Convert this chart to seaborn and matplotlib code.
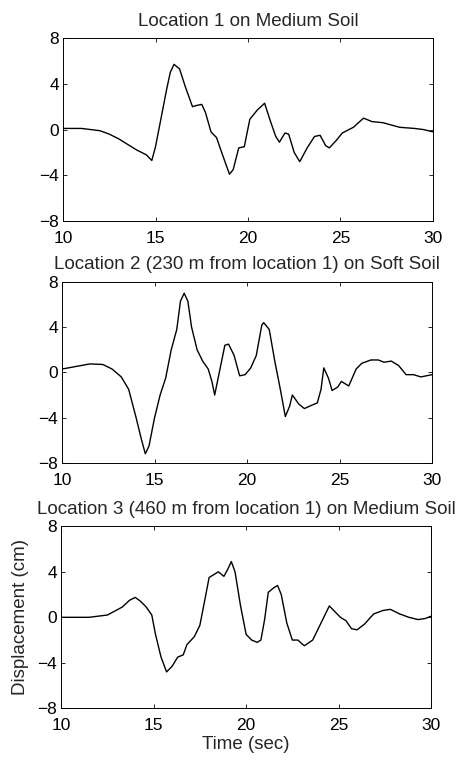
import matplotlib
matplotlib.use("Agg")
import matplotlib.pyplot as plt
import seaborn as sns
import pandas as pd

# Location 1, medium soil
t1 = [10, 11, 12, 12.5, 13, 13.5, 14, 14.5, 14.8, 15, 15.3, 15.6, 15.8, 16.0, 16.3, 16.6,
      17, 17.2, 17.5, 17.7, 18, 18.3, 18.6, 19.0, 19.2, 19.5, 19.8, 20.1, 20.5, 20.9,
      21.2, 21.5, 21.7, 22.0, 22.2, 22.5, 22.8, 23.2, 23.6, 23.9, 24.2, 24.4, 24.8,
      25.1, 25.7, 26.25, 26.7, 27.3, 28.2, 29, 29.5, 30]
d1 = [0.1, 0.1, -0.1, -0.4, -0.8, -1.3, -1.8, -2.2, -2.7, -1.5, 1.0, 3.5, 5.0, 5.7, 5.3, 3.8,
      2.0, 2.1, 2.2, 1.5, -0.2, -0.7, -2.1, -3.9, -3.5, -1.6, -1.5, 0.9, 1.7, 2.3,
      0.8, -0.6, -1.1, -0.3, -0.4, -2.0, -2.8, -1.6, -0.6, -0.5, -1.4, -1.6, -0.9,
      -0.3, 0.2, 1.0, 0.7, 0.6, 0.2, 0.1, 0.0, -0.2]

# Location 2, soft soil
t2 = [10, 11, 11.5, 12.2, 12.7, 13.2, 13.6, 14.0, 14.3, 14.5, 14.7, 15.0, 15.3, 15.6,
      15.9, 16.2, 16.4, 16.6, 16.8, 17.0, 17.3, 17.6, 17.9, 18.1, 18.25, 18.5, 18.8,
      19.0, 19.3, 19.6, 19.9, 20.2, 20.5, 20.8, 20.9, 21.2, 21.5, 21.8, 22.07, 22.3,
      22.45, 22.8, 23.1, 23.5, 23.8, 24.0, 24.15, 24.4, 24.6, 24.9, 25.1, 25.5, 25.9,
      26.2, 26.7, 27.1, 27.4, 27.8, 28.2, 28.6, 29.0, 29.4, 30]
d2 = [0.3, 0.6, 0.75, 0.7, 0.3, -0.4, -1.5, -4.0, -6.0, -7.2, -6.5, -4.0, -2.0, -0.5,
      2.0, 3.8, 6.3, 7.0, 6.3, 4.0, 2.0, 1.0, 0.3, -0.8, -2.0, 0.0, 2.4,
      2.5, 1.5, -0.3, -0.2, 0.4, 1.5, 4.2, 4.4, 3.8, 1.0, -1.5, -3.9, -3.0,
      -2.0, -2.8, -3.2, -2.9, -2.7, -1.5, 0.4, -0.5, -1.6, -1.3, -0.8, -1.2, 0.3,
      0.8, 1.1, 1.1, 0.9, 1.0, 0.6, -0.2, -0.2, -0.4, -0.2]

# Location 3, medium soil
t3 = [10, 11.5, 12.5, 13.3, 13.7, 14.0, 14.3, 14.6, 14.9, 15.1, 15.4, 15.7, 16.0, 16.3,
      16.6, 16.8, 17.2, 17.5, 17.8, 18.0, 18.3, 18.5, 18.8, 19.0, 19.2, 19.4, 19.7,
      20.0, 20.3, 20.6, 20.8, 21.0, 21.2, 21.5, 21.7, 21.9, 22.2, 22.5, 22.8, 23.0,
      23.15, 23.6, 23.9, 24.2, 24.5, 24.8, 25.1, 25.4, 25.7, 26.0, 26.4, 26.9, 27.4,
      27.8, 28.3, 28.8, 29.3, 29.7, 30]
d3 = [0.0, 0.0, 0.2, 0.9, 1.5, 1.75, 1.4, 0.9, 0.2, -1.5, -3.5, -4.8, -4.3, -3.5,
      -3.3, -2.4, -1.7, -0.7, 1.8, 3.5, 3.8, 4.0, 3.6, 4.2, 4.9, 4.0, 1.0,
      -1.5, -2.0, -2.2, -2.0, -0.2, 2.2, 2.6, 2.8, 2.0, -0.5, -2.0, -2.0, -2.3,
      -2.5, -2.0, -1.0, 0.0, 1.0, 0.5, 0.0, -0.3, -1.0, -1.1, -0.6, 0.3, 0.6,
      0.7, 0.3, 0.0, -0.2, -0.1, 0.1]

titles = ["Location 1 on Medium Soil",
          "Location 2 (230 m from location 1) on Soft Soil",
          "Location 3 (460 m from location 1) on Medium Soil"]
xticks = [10, 15, 20, 25, 30]
yticks = [-8, -4, 0, 4, 8]

sns.set_style("ticks")
plt.rcParams['font.family'] = ['Liberation Sans', 'DejaVu Sans']
fs_title = 13.5
fs_tick = 12.5

fig = plt.figure(figsize=(4.67, 7.6), dpi=100)
# axes boxes [left, bottom, width, height] in figure fractions
boxes = [[0.135, 0.709, 0.792, 0.241],
         [0.133, 0.391, 0.792, 0.238],
         [0.131, 0.068, 0.792, 0.2395]]

series = [(t1, d1), (t2, d2), (t3, d3)]
for i, (t, d) in enumerate(series):
    ax = fig.add_axes(boxes[i])
    df = pd.DataFrame({'time': t, 'disp': d})
    sns.lineplot(data=df, x='time', y='disp', ax=ax, color='black', linewidth=1.0)
    ax.set_xlim(10, 30)
    ax.set_ylim(-8, 8)
    ax.set_xticks(xticks)
    ax.set_yticks(yticks)
    ax.tick_params(direction='in', top=True, right=True, length=3, width=0.6,
                   labelsize=fs_tick, colors='black')
    ax.tick_params(axis='x', pad=7)
    ax.tick_params(axis='y', pad=3)
    for s in ax.spines.values():
        s.set_linewidth(0.7)
        s.set_color('black')
    ax.set_title(titles[i], fontsize=fs_title, pad=9)
    ax.set_xlabel('')
    ax.set_ylabel('')
    if i == 2:
        ax.set_xlabel('Time (sec)', fontsize=fs_title, labelpad=2)
        ax.set_ylabel('Displacement (cm)', fontsize=fs_title, labelpad=6)

fig.savefig('out.png', dpi=100)
